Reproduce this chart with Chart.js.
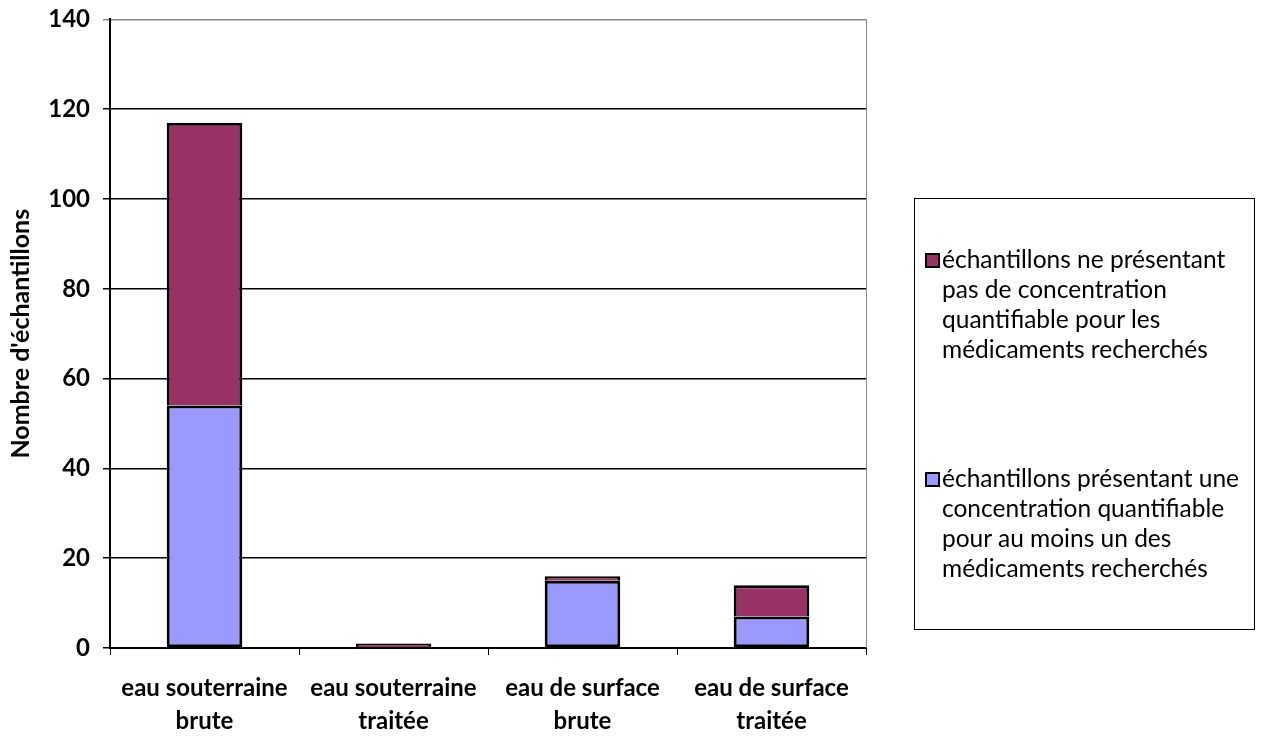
<!DOCTYPE html>
<html>
<head>
<meta charset="utf-8">
<script src="https://cdn.jsdelivr.net/npm/chart.js@4.4.0/dist/chart.umd.min.js"></script>
<style>
    html, body { margin: 0; padding: 0; background: #fff; overflow: hidden; }
    #wrap { position: relative; width: 1263px; height: 736px; overflow: hidden; }
    #barChart { position: absolute; left: 0; top: -8px; }
    #legend {
        position: absolute; left: 914px; top: 198px; width: 341px; height: 432px;
        border: 1px solid #000; box-sizing: border-box;
        font-family: Lato, "Open Sans", sans-serif; font-size: 24.5px; line-height: 30px; color: #000;
    }
    .item { position: absolute; left: 10px; padding-left: 17px; white-space: nowrap; }
    .item i {
        position: absolute; left: 0; top: 9px; width: 11px; height: 11px;
        border: 2px solid #000;
    }
</style>
</head>
<body>
<div id="wrap">
    <canvas id="barChart" width="1263" height="744"></canvas>
    <div id="legend"></div>
</div>

<script>
    // categories, split on two lines for the x axis
    var categories = [
        ["eau souterraine", "brute"],
        ["eau souterraine", "traitée"],
        ["eau de surface", "brute"],
        ["eau de surface", "traitée"]
    ];
    var withDrug = [54, 0, 15, 7];
    var withoutDrug = [63, 1, 1, 7];
    var yTicks = [0, 20, 40, 60, 80, 100, 120, 140];

    var labelWith = "échantillons présentant une concentration quantifiable pour au moins un des médicaments recherchés";
    var labelWithout = "échantillons ne présentant pas de concentration quantifiable pour les médicaments recherchés";
    var legendLines = [
        ["échantillons ne présentant", "pas de concentration", "quantifiable pour les", "médicaments recherchés"],
        ["échantillons présentant une", "concentration quantifiable", "pour au moins un des", "médicaments recherchés"]
    ];

    var blue = "#9999FF", maroon = "#993366";
    var font = "Lato, 'Open Sans', sans-serif";

    // plot area right edge, Excel style
    var frame = {
        id: 'frame',
        afterDraw: function (chart) {
            var a = chart.chartArea, c = chart.ctx;
            c.save();
            c.strokeStyle = "#888";
            c.lineWidth = 1;
            c.beginPath();
            c.moveTo(a.right + 0.5, a.top);
            c.lineTo(a.right + 0.5, a.bottom);
            c.stroke();
            c.restore();
        }
    };

    var ctx = document.getElementById("barChart").getContext("2d");
    new Chart(ctx, {
        type: 'bar',
        data: {
            labels: categories,
            datasets: [{
                label: labelWith,
                data: withDrug,
                backgroundColor: blue,
                borderColor: "#000",
                borderWidth: 3,
                borderSkipped: false,
                barPercentage: 0.8,
                categoryPercentage: 0.5
            }, {
                label: labelWithout,
                data: withoutDrug,
                backgroundColor: maroon,
                borderColor: "#000",
                borderWidth: 3,
                borderSkipped: 'start',
                barPercentage: 0.8,
                categoryPercentage: 0.5
            }]
        },
        options: {
            responsive: false,
            animation: false,
            layout: { padding: { top: 10, right: 397, left: 0, bottom: 0 } },
            plugins: { legend: { display: false }, tooltip: { enabled: false } },
            scales: {
                x: {
                    stacked: true,
                    afterFit: function (s) { s.height = 88; },
                    grid: { drawOnChartArea: false, color: "#000", tickLength: 7, offset: true },
                    border: { color: "#000", width: 2 },
                    ticks: {
                        color: "#000", padding: 16,
                        font: { family: font, size: 24, weight: 'bold', lineHeight: 1.4 }
                    }
                },
                y: {
                    stacked: true,
                    min: 0, max: 140,
                    afterFit: function (s) { s.width = 110; },
                    afterBuildTicks: function (s) { s.ticks = yTicks.map(function (v) { return { value: v }; }); },
                    grid: {
                        color: function (c) { return c.tick && c.tick.value === 140 ? "#888" : "#000"; },
                        lineWidth: 1.5,
                        tickLength: 7
                    },
                    border: { color: "#000", width: 2 },
                    ticks: { color: "#000", font: { family: font, size: 24, weight: 'bold' }, padding: 13 },
                    title: {
                        display: true, text: "Nombre d'échantillons", color: "#000",
                        font: { family: font, size: 25, weight: 'bold' }, padding: { top: 6, bottom: 0 }
                    }
                }
            }
        },
        plugins: [frame]
    });

    // legend box, maroon series on top
    var legend = document.getElementById("legend");
    var entries = [[maroon, legendLines[0], 45], [blue, legendLines[1], 264]];
    entries.forEach(function (e) {
        var d = document.createElement("div");
        d.className = "item";
        d.style.top = e[2] + "px";
        d.innerHTML = '<i style="background:' + e[0] + '"></i>' + e[1].join("<br>");
        legend.appendChild(d);
    });
</script>
</body>
</html>
